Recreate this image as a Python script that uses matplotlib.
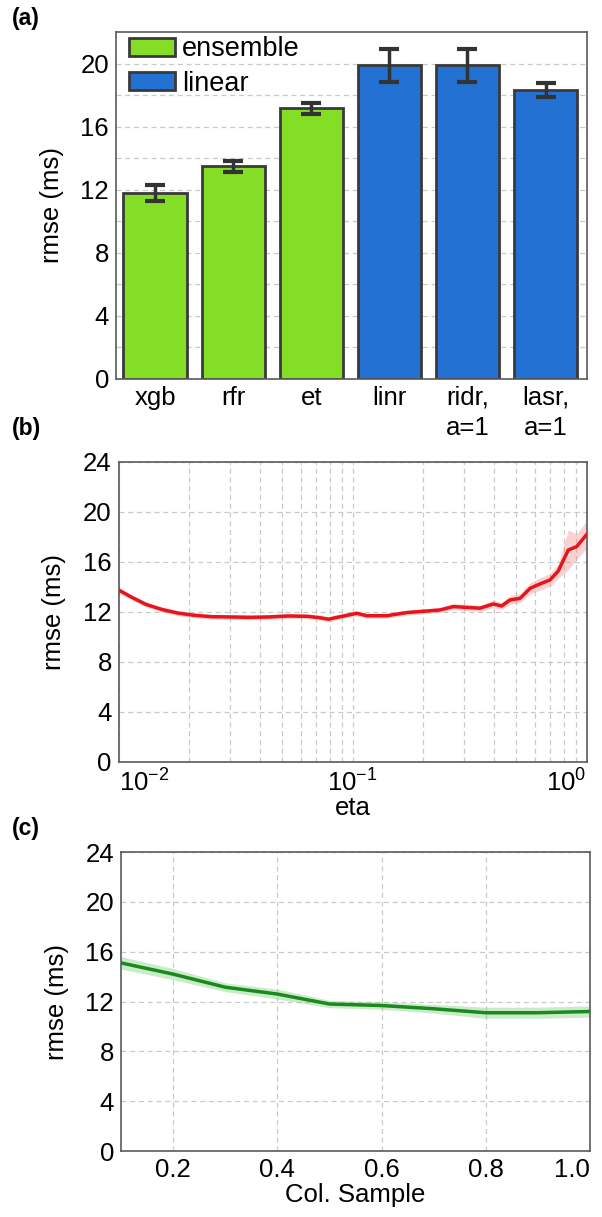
import numpy as np
import matplotlib
matplotlib.use("Agg")
import matplotlib.pyplot as plt
from matplotlib.patches import Patch

plt.rcParams['font.family'] = ['Liberation Sans', 'DejaVu Sans']
plt.rcParams['mathtext.fontset'] = 'custom'
plt.rcParams['mathtext.rm'] = 'Liberation Sans'

# (a) model comparison
models = ["xgb", "rfr", "et", "linr", "ridr,\na=1", "lasr,\na=1"]
rmse_models = [11.8, 13.5, 17.15, 19.9, 19.9, 18.3]
err_low = [11.3, 13.1, 16.8, 18.85, 18.85, 17.9]
err_high = [12.3, 13.85, 17.5, 20.95, 20.95, 18.75]
groups = ["ensemble", "ensemble", "ensemble", "linear", "linear", "linear"]

# (b) learning rate sweep
eta = [0.01, 0.0113, 0.0131, 0.0153, 0.0178, 0.0207, 0.0249, 0.0301, 0.0364,
       0.0439, 0.0531, 0.0641, 0.0718, 0.0789, 0.0882, 0.104, 0.115, 0.14,
       0.17, 0.236, 0.269, 0.35, 0.399, 0.433, 0.47, 0.519, 0.573, 0.631,
       0.697, 0.756, 0.834, 0.906, 1.0]
rmse_eta = [13.75, 13.2, 12.6, 12.2, 11.92, 11.75, 11.62, 11.6, 11.57,
            11.6, 11.68, 11.65, 11.55, 11.42, 11.62, 11.89, 11.7, 11.7,
            11.95, 12.16, 12.43, 12.3, 12.64, 12.48, 12.96, 13.09, 13.89, 14.24,
            14.56, 15.28, 16.96, 17.23, 18.2]
band_eta = [0.25, 0.2, 0.2, 0.2, 0.2, 0.2, 0.2, 0.2, 0.2,
            0.2, 0.2, 0.2, 0.2, 0.2, 0.2, 0.2, 0.2, 0.2,
            0.2, 0.2, 0.25, 0.25, 0.3, 0.3, 0.35, 0.35, 0.45, 0.5,
            0.5, 0.6, 1.6, 1.0, 1.1]

# (c) column sample sweep
col_sample = [0.1, 0.2, 0.3, 0.4, 0.5, 0.6, 0.7, 0.8, 0.9, 1.0]
rmse_col = [15.1, 14.2, 13.15, 12.6, 11.8, 11.68, 11.42, 11.1, 11.1, 11.2]
band_col = [0.5, 0.45, 0.35, 0.4, 0.3, 0.3, 0.35, 0.45, 0.45, 0.45]

colors = {"ensemble": "#84de25", "linear": "#2371d2"}
spine_col = "#5a5a5a"
grid_kw = dict(color="#c9c9c9", linestyle=(0, (4, 3)), linewidth=0.9)
fs = 18.5

fig = plt.figure(figsize=(6.02, 12.17), dpi=100)
ax1 = fig.add_axes([0.1927, 0.6886, 0.7823, 0.2851])
ax2 = fig.add_axes([0.1972, 0.3739, 0.7774, 0.2465])
ax3 = fig.add_axes([0.2010, 0.0542, 0.7790, 0.2457])

for ax in (ax1, ax2, ax3):
    for s in ax.spines.values():
        s.set_color(spine_col)
        s.set_linewidth(1.2)
    ax.tick_params(axis="both", which="both", length=0, labelsize=fs, pad=5)
    ax.set_axisbelow(True)

# panel a
x = np.arange(len(models))
yerr = [np.array(rmse_models) - np.array(err_low), np.array(err_high) - np.array(rmse_models)]
ax1.bar(x, rmse_models, width=0.81, color=[colors[g] for g in groups],
        edgecolor="#3a3a3a", linewidth=2, zorder=2)
ax1.errorbar(x, rmse_models, yerr=yerr, fmt="none", ecolor="#333333",
             elinewidth=2.5, capsize=7, capthick=3, zorder=3)
ax1.set_xlim(-0.5, 5.53)
ax1.set_ylim(0, 22)
ax1.set_yticks([0, 4, 8, 12, 16, 20])
ax1.set_yticks(np.arange(2, 22, 4), minor=True)
ax1.yaxis.grid(True, which="both", **grid_kw)
ax1.set_xticks(x)
ax1.set_xticklabels(models, linespacing=1.3, va="top")
ax1.set_ylabel("rmse (ms)", fontsize=fs, labelpad=12)
handles = [Patch(facecolor=colors["ensemble"], edgecolor="#3a3a3a", linewidth=2, label="ensemble"),
           Patch(facecolor=colors["linear"], edgecolor="#3a3a3a", linewidth=2, label="linear")]
ax1.legend(handles=handles, loc="upper left", bbox_to_anchor=(0.022, 0.995), frameon=False,
           fontsize=19.5, handlelength=1.7, handleheight=0.6, handletextpad=0.25,
           labelspacing=0.3, borderaxespad=0.0, borderpad=0.1)

# panel b
ax2.fill_between(eta, np.array(rmse_eta) - np.array(band_eta),
                 np.array(rmse_eta) + np.array(band_eta),
                 color="#f08080", alpha=0.35, linewidth=0, zorder=2)
ax2.plot(eta, rmse_eta, color="#e8141c", linewidth=2.5, zorder=3)
ax2.set_xscale("log")
ax2.set_xticks([0.01, 0.1, 1.0])
ax2.set_xticklabels([r"$\mathregular{10^{-2}}$", r"$\mathregular{10^{-1}}$", r"$\mathregular{10^{0}}$"])
ax2.set_xlim(0.01, 1.0)
ax2.set_ylim(0, 24)
ax2.set_yticks([0, 4, 8, 12, 16, 20, 24])
ax2.grid(True, which="both", **grid_kw)
ax2.set_xlabel("eta", fontsize=fs, labelpad=0)
ax2.set_ylabel("rmse (ms)", fontsize=fs, labelpad=12)
xl = ax2.get_xticklabels()
xl[0].set_ha("left")
xl[-1].set_ha("right")

# panel c
ax3.fill_between(col_sample, np.array(rmse_col) - np.array(band_col),
                 np.array(rmse_col) + np.array(band_col),
                 color="#7ccf7c", alpha=0.4, linewidth=0, zorder=2)
ax3.plot(col_sample, rmse_col, color="#198a1c", linewidth=2.5, zorder=3)
ax3.set_xticks([0.2, 0.4, 0.6, 0.8, 1.0])
ax3.set_xlim(0.1, 1.0)
ax3.set_ylim(0, 24)
ax3.set_yticks([0, 4, 8, 12, 16, 20, 24])
ax3.grid(True, **grid_kw)
ax3.set_xlabel("Col. Sample", fontsize=fs, labelpad=1)
ax3.set_ylabel("rmse (ms)", fontsize=fs, labelpad=12)
ax3.get_xticklabels()[-1].set_ha("right")

for lab, ypix in (("(a)", 18), ("(b)", 428), ("(c)", 828)):
    fig.text(12 / 602, 1 - ypix / 1217, lab, fontsize=16.5, fontweight="bold", va="center", ha="left")

fig.savefig("out.png", dpi=100)
